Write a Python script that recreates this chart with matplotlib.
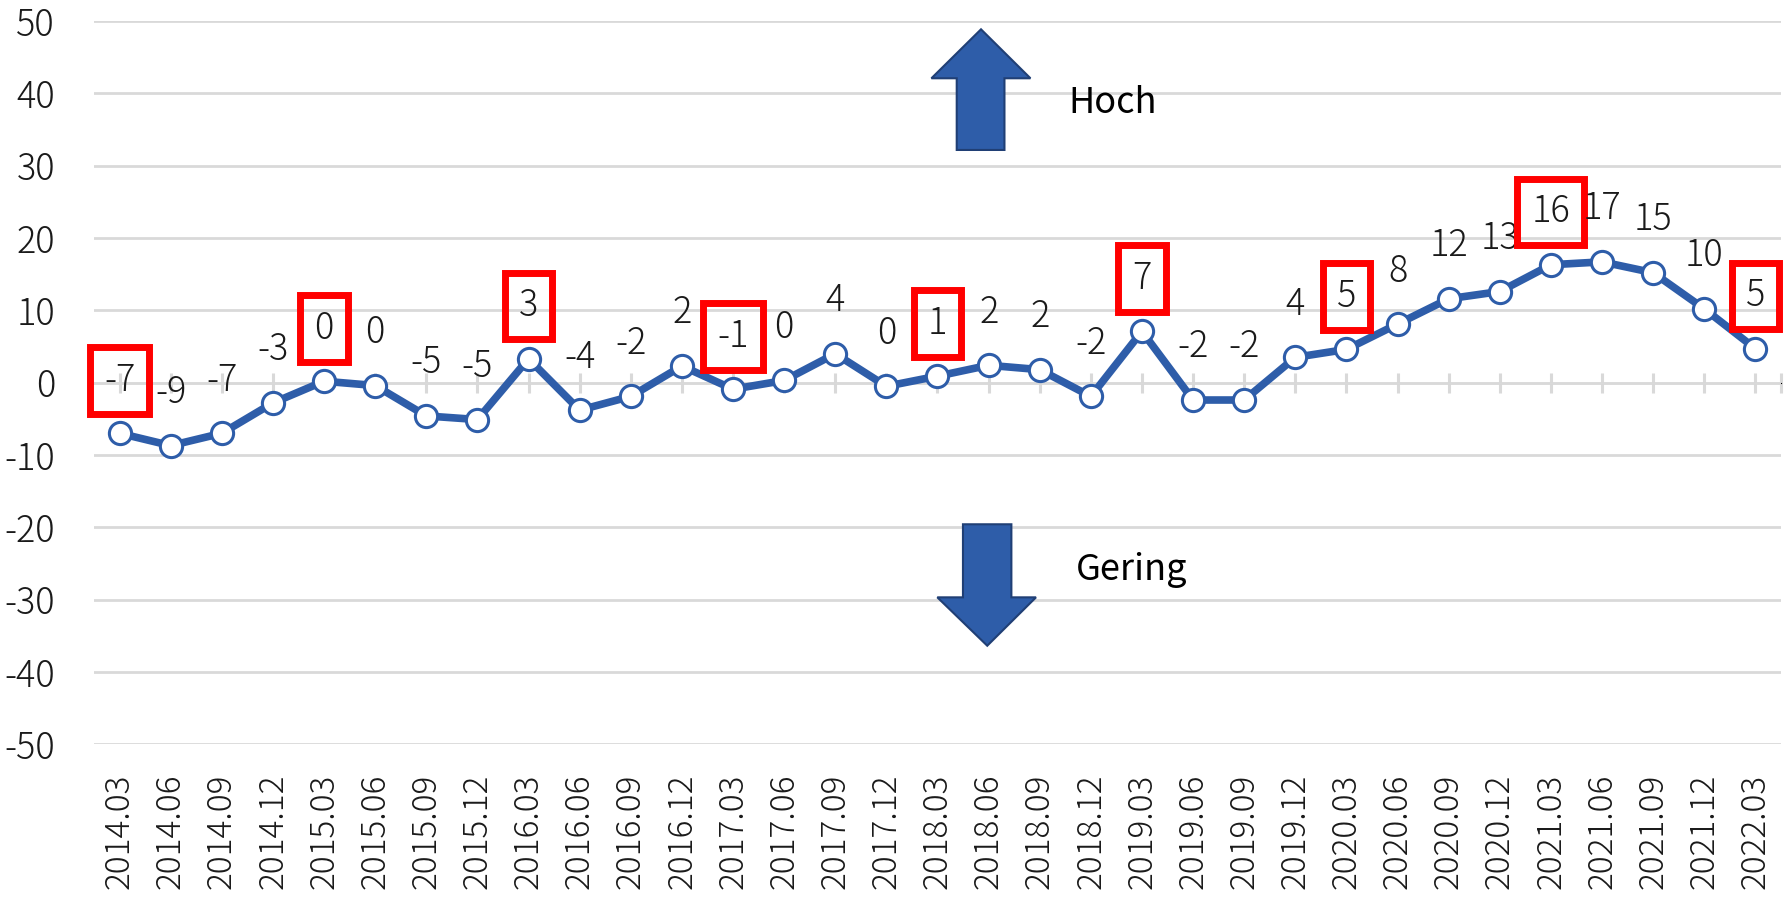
import numpy as np
import matplotlib.pyplot as plt
from matplotlib.patches import Polygon

plt.rcParams['font.family'] = ['Noto Sans CJK JP', 'DejaVu Sans']
plt.rcParams['font.weight'] = 'light'
plt.rcParams['axes.unicode_minus'] = False

quarters = ['2014.03', '2014.06', '2014.09', '2014.12',
            '2015.03', '2015.06', '2015.09', '2015.12',
            '2016.03', '2016.06', '2016.09', '2016.12',
            '2017.03', '2017.06', '2017.09', '2017.12',
            '2018.03', '2018.06', '2018.09', '2018.12',
            '2019.03', '2019.06', '2019.09', '2019.12',
            '2020.03', '2020.06', '2020.09', '2020.12',
            '2021.03', '2021.06', '2021.09', '2021.12',
            '2022.03']
values = [-7.0, -8.7, -7.0, -2.8,
          0.2, -0.4, -4.6, -5.1,
          3.3, -3.8, -1.9, 2.3,
          -0.9, 0.3, 4.0, -0.5,
          0.9, 2.4, 1.8, -1.9,
          7.1, -2.4, -2.4, 3.5,
          4.6, 8.1, 11.6, 12.6,
          16.3, 16.7, 15.2, 10.2,
          4.7]
# March values get a red box
boxed = [q.endswith('.03') for q in quarters]

blue = '#2E5DA9'
grid_col = '#D9D9D9'
txt_col = '#1a1a1a'
fs = 26

fig = plt.figure(figsize=(17.84, 9.01), dpi=100)
ax = fig.add_axes([0.0527, 0.1739, 0.9456, 0.8028])

x = np.arange(len(quarters))
ax.plot(x, values, color=blue, linewidth=5.5, marker='o', markersize=16,
        markerfacecolor='white', markeredgecolor=blue, markeredgewidth=2.2,
        zorder=4)

for i, v in enumerate(values):
    lab = str(int(round(v)))
    kw = {}
    if boxed[i]:
        kw['bbox'] = dict(boxstyle='square,pad=0.39', facecolor='none',
                          edgecolor='#FF0000', linewidth=5)
    ax.annotate(lab, (i, v), xytext=(0, 38), textcoords='offset points',
                ha='center', va='center', fontsize=fs, color=txt_col,
                zorder=5, **kw)

ax.set_xlim(-0.5, len(quarters) - 0.5)
ax.set_ylim(-50, 50)
ax.set_yticks(np.arange(-50, 51, 10))
ax.set_xticks(x)
ax.set_xticklabels(quarters, rotation=90)
ax.tick_params(axis='y', length=0, pad=28, labelsize=fs, labelcolor=txt_col)
ax.tick_params(axis='x', length=0, pad=21, labelsize=24, labelcolor=txt_col)
ax.grid(axis='y', color=grid_col, linewidth=2)
ax.set_axisbelow(True)
for s in ax.spines.values():
    s.set_visible(False)

# category axis crossing at zero with small cross ticks
sec = ax.secondary_xaxis(0.5)
sec.set_xticks(list(x) + [len(quarters) - 0.5])
sec.tick_params(length=14, width=2.2, color=grid_col, direction='inout',
                labelbottom=False, labeltop=False)
sec.spines['bottom'].set_color(grid_col)
sec.spines['bottom'].set_linewidth(2)

# up / down arrows (axes fraction)
up = [(0.5258, 0.9885), (0.5551, 0.9208), (0.5397, 0.9208), (0.5397, 0.8217),
      (0.5114, 0.8217), (0.5114, 0.9208), (0.4964, 0.9208)]
down = [(0.5295, 0.1363), (0.5584, 0.2032), (0.5438, 0.2032), (0.5438, 0.3042),
        (0.5151, 0.3042), (0.5151, 0.2032), (0.4999, 0.2032)]
for pts in (up, down):
    ax.add_patch(Polygon(pts, closed=True, transform=ax.transAxes,
                         facecolor=blue, edgecolor='#203F75', linewidth=1.5,
                         zorder=3))
ax.text(0.5775, 0.8728, 'Hoch', transform=ax.transAxes, fontsize=fs,
        color='black', ha='left', va='baseline', fontweight='normal')
ax.text(0.5821, 0.2272, 'Gering', transform=ax.transAxes, fontsize=fs,
        color='black', ha='left', va='baseline', fontweight='normal')

fig.savefig('out.png', dpi=100)
